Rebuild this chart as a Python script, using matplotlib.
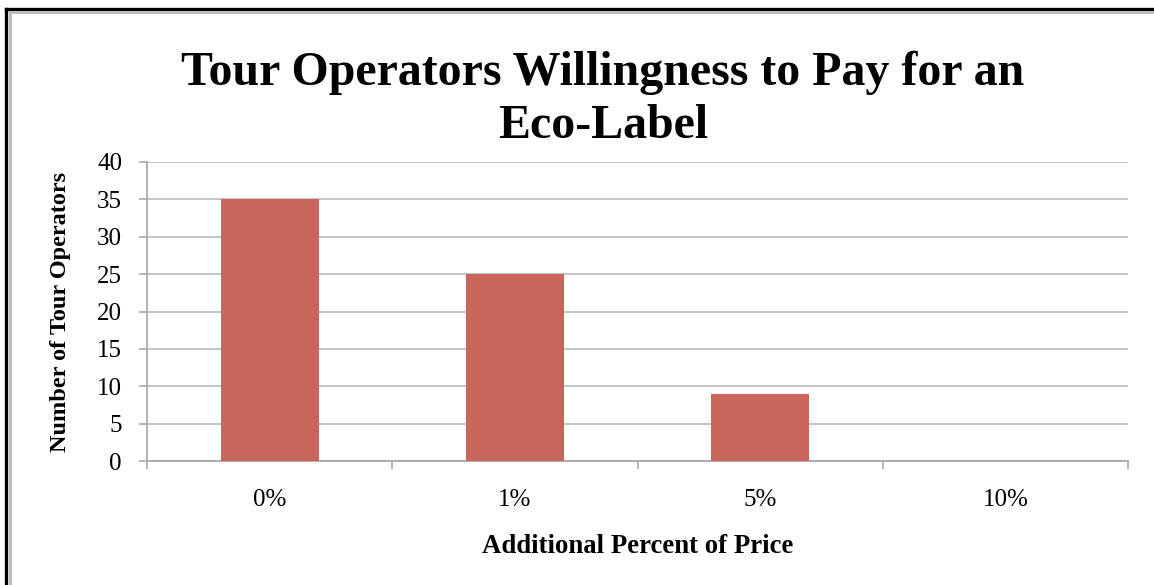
import matplotlib
matplotlib.use("Agg")
import matplotlib.pyplot as plt
from matplotlib.lines import Line2D

categories = ["0%", "1%", "5%", "10%"]
values = [35, 25, 9, 0]
yticks = [0, 5, 10, 15, 20, 25, 30, 35, 40]
title = "Tour Operators Willingness to Pay for an\nEco-Label"
xlabel = "Additional Percent of Price"
ylabel = "Number of Tour Operators"

plt.rcParams['font.family'] = ['Liberation Serif', 'DejaVu Serif']

W, H = 1154, 585
fig = plt.figure(figsize=(W / 100, H / 100), dpi=100)
fig.patch.set_facecolor("white")

def fx(px): return px / W
def fy(py): return 1 - py / H

# frame lines (black outer, gray inner) on left and top
fig.add_artist(Line2D([fx(6), fx(6)], [fy(9), 0], color="black", lw=2.4, transform=fig.transFigure))
fig.add_artist(Line2D([fx(6), 1], [fy(9), fy(9)], color="black", lw=2.4, transform=fig.transFigure))
fig.add_artist(Line2D([fx(9.5), fx(9.5)], [fy(12), 0], color="#BBBBBB", lw=2.0, transform=fig.transFigure))
fig.add_artist(Line2D([fx(9.5), 1], [fy(12), fy(12)], color="#BBBBBB", lw=2.0, transform=fig.transFigure))

ax = fig.add_axes([fx(147), fy(461), fx(1128) - fx(147), fy(162) - fy(461)])
x = list(range(len(categories)))
ax.bar(x, values, width=0.4, color="#C9665C", zorder=3)

ax.set_xlim(-0.5, len(categories) - 0.5)
ax.set_ylim(0, 40)
ax.set_yticks(yticks)
ax.set_yticklabels([str(v) for v in yticks], fontsize=18)
ax.yaxis.grid(True, color="#BFBFBF", lw=1.3, zorder=0)
ax.set_axisbelow(True)

ax.set_xticks(x)
ax.set_xticklabels(categories, fontsize=18)
ax.set_xticks([i - 0.5 for i in range(len(categories) + 1)], minor=True)
ax.tick_params(axis="x", which="major", length=0, pad=20)
ax.tick_params(axis="x", which="minor", length=6, color="#AAAAAA", width=1.2, direction="out")
ax.tick_params(axis="y", length=6, color="#AAAAAA", width=1.2, pad=12)

for s in ["top", "right"]:
    ax.spines[s].set_visible(False)
for s in ["left", "bottom"]:
    ax.spines[s].set_color("#AAAAAA")
    ax.spines[s].set_linewidth(1.3)

ax.set_xlabel(xlabel, fontsize=19.3, fontweight="bold", labelpad=17)
ax.set_ylabel(ylabel, fontsize=17.5, fontweight="bold", labelpad=19)

fig.text(fx(603), fy(99), title, ha="center", va="center", fontsize=34.5,
         fontweight="bold", linespacing=1.26)

fig.savefig("out.png", dpi=100, facecolor="white")
